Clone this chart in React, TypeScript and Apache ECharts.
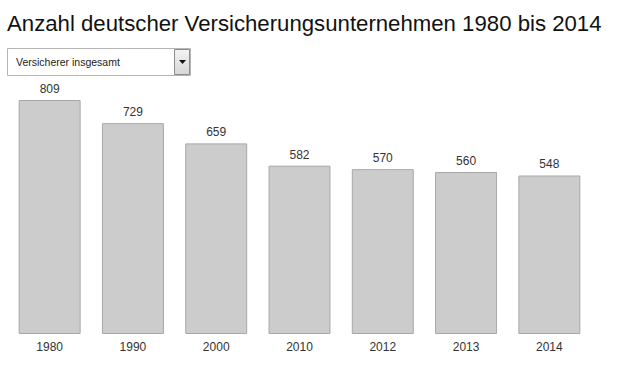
import React, { useEffect, useRef } from "react";
import * as echarts from "echarts";

const title = "Anzahl deutscher Versicherungsunternehmen 1980 bis 2014";
const dropdownLabel = "Versicherer insgesamt";
const years = ["1980", "1990", "2000", "2010", "2012", "2013", "2014"];
const counts = [809, 729, 659, 582, 570, 560, 548];

export default function App() {
  const ref = useRef<HTMLDivElement>(null);
  useEffect(() => {
    if (!ref.current) return;
    const chart = echarts.init(ref.current, null, { renderer: "svg" });
    chart.setOption({
      animation: false,
      backgroundColor: "#ffffff",
      textStyle: { fontFamily: "Arial, 'Liberation Sans', sans-serif" },
      title: {
        text: title,
        left: 2,
        top: 7,
        textStyle: { fontSize: 22.2, fontWeight: "normal", color: "#111111", fontFamily: "Arial, 'Liberation Sans', sans-serif" },
      },
      graphic: [
        {
          type: "rect",
          shape: { x: 7.5, y: 48.5, width: 183, height: 27 },
          style: { fill: "#ffffff", stroke: "#b5b5b5", lineWidth: 1 },
        },
        {
          type: "rect",
          shape: { x: 174.5, y: 49.5, width: 15, height: 25 },
          style: {
            fill: new echarts.graphic.LinearGradient(0, 0, 0, 1, [
              { offset: 0, color: "#f4f4f4" },
              { offset: 1, color: "#d6d6d6" },
            ]),
            stroke: "#8c8c8c",
            lineWidth: 1,
          },
        },
        {
          type: "polygon",
          shape: { points: [[179, 60], [186, 60], [182.5, 64]] },
          style: { fill: "#111111" },
        },
        {
          type: "text",
          x: 16,
          y: 62,
          style: {
            text: dropdownLabel,
            fontSize: 10.5,
            fill: "#222222",
            verticalAlign: "middle",
            fontFamily: "Arial, 'Liberation Sans', sans-serif",
          },
        },
      ],
      grid: { left: 8, right: 30, top: 100, bottom: 49, containLabel: false },
      xAxis: {
        type: "category",
        data: years,
        axisLine: { show: false },
        axisTick: { show: false },
        axisLabel: { color: "#333333", fontSize: 12, margin: 7 },
      },
      yAxis: {
        type: "value",
        min: 0,
        max: 809,
        show: false,
        splitLine: { show: false },
      },
      series: [
        {
          type: "bar",
          data: counts,
          barCategoryGap: "25.6%",
          itemStyle: { color: "#cccccc", borderColor: "#a8a8a8", borderWidth: 1 },
          label: { show: true, position: "top", distance: 5, color: "#333333", fontSize: 12 },
        },
      ],
    });
    return () => chart.dispose();
  }, []);
  return (
    <div
      ref={ref}
      style={{ position: "fixed", left: 0, top: 0, width: 621, height: 383 }}
    />
  );
}
